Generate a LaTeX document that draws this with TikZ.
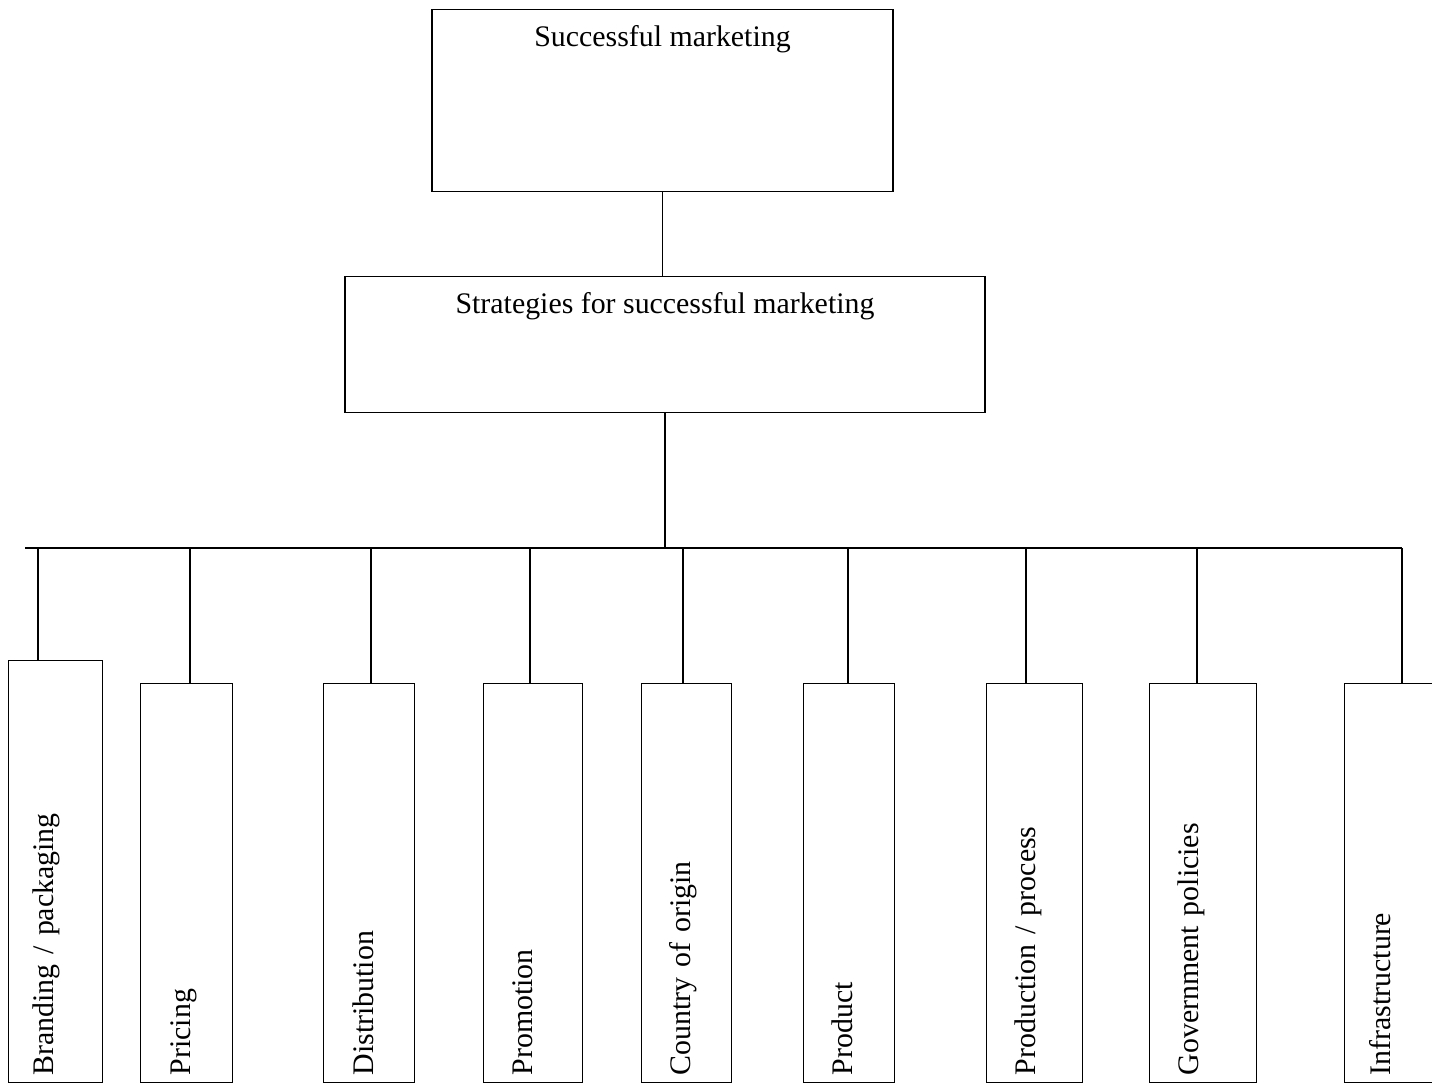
\documentclass[tikz,border=0pt]{standalone}
\usepackage{fontspec}
\setmainfont{Liberation Serif}
\tikzset{
  box/.style={draw, line width=0.8pt, inner ysep=0pt},
  leaf/.style={box, rotate=90, anchor=north west, align=left, inner xsep=0.14cm, text width=7.70cm}
}
\begin{document}
\begin{tikzpicture}[x=0.02cm, y=-0.02cm, line width=0.8pt, font=\fontsize{17pt}{20pt}\selectfont]
	\useasboundingbox (0,0) rectangle (1432,1085);
	\clip (0,0) rectangle (1432,1085);
	% upper boxes
	\node[box, anchor=north, minimum width=9.22cm, text height=0.74cm, text depth=2.9cm] (succ) at (662.5,9) {Successful marketing};
	\node[box, anchor=north, minimum width=12.8cm, text height=0.74cm, text depth=1.98cm] (strat) at (665,276) {Strategies for successful marketing};
	\draw (succ.south) -- (succ.south |- strat.north);
	% bar
	\coordinate (barL) at (25,548);
	\coordinate (barR) at (1402,548);
	\draw (strat.south) -- (strat.south |- barL);
	\draw (barL) -- (barR);
	% lower boxes
	\node[leaf, text width=8.16cm, text height=0.90cm, text depth=0.98cm] (brand) at (8,1083) {Branding / packaging};
	\node[leaf, text height=1.00cm, text depth=0.84cm] (pric) at (140,1083) {Pricing};
	\node[leaf, text height=1.00cm, text depth=0.82cm] (dist) at (323,1083) {Distribution};
	\node[leaf, text height=0.98cm, text depth=1.00cm] (prom) at (483,1083) {Promotion};
	\node[leaf, text height=0.98cm, text depth=0.82cm] (ctry) at (641,1083) {Country of origin};
	\node[leaf, text height=0.98cm, text depth=0.84cm] (prod) at (803,1083) {Product};
	\node[leaf, text height=0.98cm, text depth=0.94cm] (proc) at (986,1083) {Production / process};
	\node[leaf, text height=0.98cm, text depth=1.16cm] (govt) at (1149,1083) {Government policies};
	\node[leaf, text height=0.92cm, text depth=1.12cm] (infr) at (1344,1083) {Infrastructure};
	% drops
	\coordinate (j1) at (38,548);
	\coordinate (j2) at (190,548);
	\coordinate (j3) at (371,548);
	\coordinate (j4) at (530,548);
	\coordinate (j5) at (683,548);
	\coordinate (j6) at (848,548);
	\coordinate (j7) at (1026,548);
	\coordinate (j8) at (1197,548);
	\draw (j1) -- (j1 |- brand.east);
	\draw (j2) -- (j2 |- pric.east);
	\draw (j3) -- (j3 |- dist.east);
	\draw (j4) -- (j4 |- prom.east);
	\draw (j5) -- (j5 |- ctry.east);
	\draw (j6) -- (j6 |- prod.east);
	\draw (j7) -- (j7 |- proc.east);
	\draw (j8) -- (j8 |- govt.east);
	\draw (barR) -- (barR |- infr.east);
\end{tikzpicture}
\end{document}
